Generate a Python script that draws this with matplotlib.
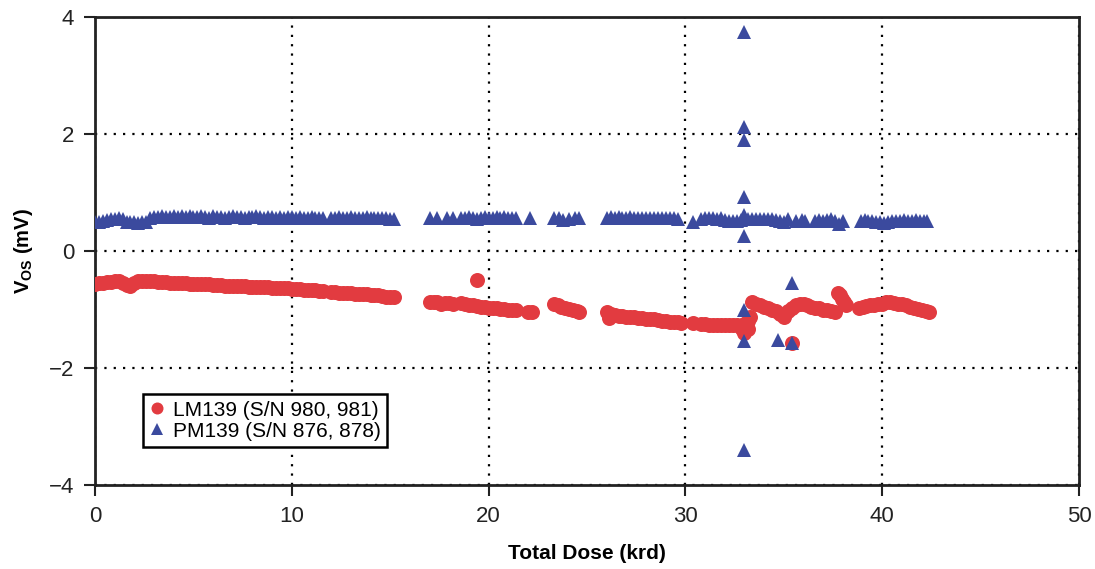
import matplotlib
matplotlib.use("Agg")
import matplotlib.pyplot as plt
from matplotlib import font_manager

# LM139 offset voltage (mV) vs. total dose (krd)
lm_dose = [0.0, 0.2, 0.4, 0.6, 0.8, 1.0, 1.2, 1.4, 1.6, 1.8,
           2.0, 2.2, 2.4, 2.6, 2.8, 3.0, 3.2, 3.4, 3.6, 3.8,
           4.0, 4.2, 4.4, 4.6, 4.8, 5.0, 5.2, 5.4, 5.6, 5.8,
           6.0, 6.2, 6.4, 6.6, 6.8, 7.0, 7.2, 7.4, 7.6, 7.8,
           8.0, 8.2, 8.4, 8.6, 8.8, 9.0, 9.2, 9.4, 9.6, 9.8,
           10.0, 10.2, 10.4, 10.6, 10.8, 11.0, 11.2, 11.4, 11.6,
           12.0, 12.2, 12.4, 12.6, 12.8, 13.0, 13.2, 13.4, 13.6, 13.8,
           14.0, 14.2, 14.4, 14.6, 14.8, 15.0, 15.2,
           17.0, 17.2, 17.4, 17.6, 17.8, 18.0, 18.2, 19.4,
           18.6, 18.8, 19.0, 19.2, 19.4, 19.6, 19.8, 20.0, 20.2, 20.4,
           20.6, 20.8, 21.0, 21.2, 21.4, 22.0, 22.2,
           23.3, 23.5, 23.7, 23.9, 24.1, 24.3, 24.5, 24.6,
           26.0, 26.2, 26.4, 26.6, 26.8, 27.0, 27.2, 27.4, 27.6, 27.8,
           28.0, 28.2, 28.4, 28.6, 28.8, 29.0, 29.2, 29.4, 29.6, 29.8, 26.1,
           30.4, 30.8, 31.0, 31.2, 31.4, 31.6, 31.8, 32.0, 32.2, 32.4,
           32.6, 32.8, 32.9, 33.0, 33.1, 33.2, 33.3, 33.2, 33.0,
           33.4, 33.6, 33.8, 34.0, 34.2, 34.4, 34.6, 34.8, 35.0, 35.2,
           35.4, 35.6, 35.8, 36.0, 36.2,
           36.4, 36.6, 36.8, 37.0, 37.2, 37.4, 37.6,
           37.75, 37.85, 37.95, 38.05, 38.15,
           38.8, 39.0, 39.2, 39.4, 39.6, 39.8, 40.0, 40.2, 40.4, 40.6,
           40.8, 41.0, 41.2, 41.4, 41.6, 41.8, 42.0, 42.2, 42.4,
           35.4]
lm_vos = [-0.56, -0.55, -0.54, -0.53, -0.53, -0.52, -0.51, -0.54, -0.58, -0.59,
          -0.55, -0.52, -0.51, -0.51, -0.52, -0.52, -0.53, -0.53, -0.53, -0.54,
          -0.54, -0.55, -0.55, -0.55, -0.56, -0.56, -0.56, -0.57, -0.57, -0.57,
          -0.58, -0.58, -0.58, -0.59, -0.59, -0.59, -0.60, -0.60, -0.60, -0.61,
          -0.61, -0.61, -0.62, -0.62, -0.62, -0.63, -0.63, -0.63, -0.64, -0.64,
          -0.65, -0.65, -0.65, -0.66, -0.66, -0.67, -0.67, -0.68, -0.68,
          -0.70, -0.70, -0.71, -0.71, -0.72, -0.72, -0.73, -0.73, -0.74, -0.74,
          -0.75, -0.76, -0.76, -0.77, -0.78, -0.79, -0.79,
          -0.87, -0.88, -0.88, -0.90, -0.89, -0.89, -0.91, -0.50,
          -0.89, -0.91, -0.92, -0.93, -0.94, -0.95, -0.96, -0.97, -0.97, -0.98,
          -0.99, -0.99, -1.00, -1.00, -1.01, -1.04, -1.05,
          -0.91, -0.93, -0.95, -0.97, -0.99, -1.01, -1.03, -1.04,
          -1.05, -1.08, -1.10, -1.11, -1.11, -1.12, -1.13, -1.13, -1.14, -1.15,
          -1.16, -1.17, -1.17, -1.18, -1.19, -1.20, -1.21, -1.21, -1.22, -1.23, -1.15,
          -1.23, -1.25, -1.25, -1.26, -1.26, -1.26, -1.27, -1.27, -1.27, -1.27,
          -1.26, -1.28, -1.33, -1.40, -1.30, -1.20, -1.12, -1.34, -1.25,
          -0.88, -0.91, -0.93, -0.95, -0.97, -1.00, -1.03, -1.08, -1.12, -1.03,
          -0.97, -0.92, -0.90, -0.91, -0.93,
          -0.95, -0.97, -0.98, -1.00, -1.01, -1.03, -1.04,
          -0.72, -0.76, -0.82, -0.87, -0.92,
          -0.97, -0.95, -0.94, -0.93, -0.92, -0.91, -0.90, -0.88, -0.87, -0.89,
          -0.90, -0.90, -0.92, -0.95, -0.97, -0.99, -1.01, -1.02, -1.04,
          -1.57]

# PM139 offset voltage (mV) vs. total dose (krd)
pm_dose = [0.0, 0.2, 0.4, 0.6, 0.8, 1.0, 1.2, 1.4, 1.6, 1.8,
           2.0, 2.2, 2.4, 2.6, 2.8, 3.0, 3.2, 3.4, 3.6, 3.8,
           4.0, 4.2, 4.4, 4.6, 4.8, 5.0, 5.2, 5.4, 5.6, 5.8,
           6.0, 6.2, 6.4, 6.6, 6.8, 7.0, 7.2, 7.4, 7.6, 7.8,
           8.0, 8.2, 8.4, 8.6, 8.8, 9.0, 9.2, 9.4, 9.6, 9.8,
           10.0, 10.2, 10.4, 10.6, 10.8, 11.0, 11.2, 11.4, 11.6,
           12.0, 12.2, 12.4, 12.6, 12.8, 13.0, 13.2, 13.4, 13.6, 13.8,
           14.0, 14.2, 14.4, 14.6, 14.8, 15.0, 15.2,
           17.0, 17.4, 17.9, 18.2,
           18.6, 18.8, 19.0, 19.2, 19.4, 19.6, 19.8, 20.0, 20.2, 20.4,
           20.6, 20.8, 21.0, 21.2, 21.4, 22.1,
           23.3, 23.6, 23.8, 24.1, 24.4, 24.6,
           26.0, 26.2, 26.4, 26.6, 26.8, 27.0, 27.2, 27.4, 27.6, 27.8,
           28.0, 28.2, 28.4, 28.6, 28.8, 29.0, 29.2, 29.4, 29.6,
           30.4, 30.8, 31.0, 31.2, 31.4, 31.6, 31.8, 32.0, 32.2, 32.4,
           32.6, 32.8, 33.0, 33.2, 33.4, 33.6, 33.8, 34.0, 34.2, 34.4,
           34.6, 34.8, 35.0, 35.2, 35.6, 35.9, 36.1,
           36.6, 36.8, 37.0, 37.2, 37.4, 37.6, 37.8, 38.0,
           38.9, 39.1, 39.3, 39.5, 39.7, 39.9, 40.1, 40.3, 40.5, 40.7,
           40.9, 41.1, 41.3, 41.5, 41.7, 41.9, 42.1, 42.3,
           33.0, 33.0, 33.0, 33.0, 33.0, 33.0, 33.0, 33.0, 33.0,
           35.4, 34.7, 35.4]
pm_vos = [0.49, 0.50, 0.51, 0.53, 0.55, 0.54, 0.56, 0.55, 0.50, 0.49,
          0.49, 0.48, 0.49, 0.50, 0.57, 0.58, 0.58, 0.59, 0.58, 0.58,
          0.59, 0.58, 0.59, 0.58, 0.59, 0.58, 0.58, 0.59, 0.58, 0.57,
          0.59, 0.58, 0.58, 0.57, 0.58, 0.59, 0.58, 0.58, 0.57, 0.58,
          0.58, 0.59, 0.58, 0.57, 0.58, 0.58, 0.57, 0.58, 0.57, 0.58,
          0.58, 0.57, 0.58, 0.57, 0.57, 0.58, 0.57, 0.56, 0.57,
          0.57, 0.57, 0.58, 0.57, 0.57, 0.58, 0.57, 0.57, 0.57, 0.58,
          0.57, 0.57, 0.56, 0.57, 0.56, 0.54, 0.54,
          0.57, 0.56, 0.57, 0.56,
          0.56, 0.57, 0.58, 0.56, 0.55, 0.57, 0.58, 0.57, 0.56, 0.58,
          0.57, 0.58, 0.56, 0.57, 0.56, 0.56,
          0.56, 0.57, 0.53, 0.55, 0.57, 0.56,
          0.57, 0.58, 0.57, 0.58, 0.57, 0.57, 0.58, 0.57, 0.56, 0.57,
          0.57, 0.56, 0.57, 0.57, 0.56, 0.56, 0.57, 0.56, 0.55,
          0.50, 0.55, 0.56, 0.57, 0.56, 0.55, 0.56, 0.53, 0.52, 0.52,
          0.52, 0.53, 0.54, 0.55, 0.54, 0.55, 0.55, 0.54, 0.55, 0.54,
          0.53, 0.52, 0.50, 0.54, 0.52, 0.53, 0.52,
          0.52, 0.53, 0.52, 0.53, 0.54, 0.52, 0.47, 0.51,
          0.52, 0.53, 0.52, 0.51, 0.50, 0.49, 0.48, 0.50, 0.52, 0.52,
          0.52, 0.53, 0.52, 0.52, 0.53, 0.52, 0.52, 0.52,
          3.75, 2.12, 1.90, 0.93, 0.62, 0.25, -1.00, -1.53, -3.40,
          -0.55, -1.52, -1.57]

lm_label = "LM139 (S/N 980, 981)"
pm_label = "PM139 (S/N 876, 878)"
x_ticks = [0, 10, 20, 30, 40, 50]
y_ticks = [-4, -2, 0, 2, 4]

RED = "#e23b40"
BLUE = "#3b4a9e"

installed = {f.name for f in font_manager.fontManager.ttflist}
narrow = "Liberation Sans Narrow" if "Liberation Sans Narrow" in installed else "Liberation Sans"
plt.rcParams["font.family"] = [narrow, "DejaVu Sans"]
plt.rcParams["mathtext.default"] = "regular"

fig = plt.figure(figsize=(10.95, 5.69), dpi=100)
ax = fig.add_axes([0.0868, 0.1476, 0.8986, 0.8225])

ax.plot(lm_dose, lm_vos, "o", color=RED, markersize=10.8, markeredgewidth=0, label=lm_label, zorder=3)
ax.plot(pm_dose, pm_vos, "^", color=BLUE, markersize=10, markeredgewidth=0, label=pm_label, zorder=4)

ax.set_xlim(0, 50)
ax.set_ylim(-4, 4)
ax.set_xticks(x_ticks)
ax.set_yticks(y_ticks)
ax.set_yticklabels(["\u2212" + str(-t) if t < 0 else str(t) for t in y_ticks])

ax.grid(True, color="black", linestyle=(0, (1, 3.2)), linewidth=1.6)
ax.tick_params(direction="out", length=8, width=1.5, labelsize=16, colors="#222222", pad=7)
for spine in ax.spines.values():
    spine.set_linewidth(2)
    spine.set_color("#222222")

ax.set_xlabel("Total Dose (krd)", fontsize=15, fontweight="bold", labelpad=12)
ax.set_ylabel("V$_{OS}$ (mV)", fontsize=14.5, fontweight="bold", labelpad=10)

leg = ax.legend(loc="lower left", bbox_to_anchor=(0.0488, 0.0812), borderaxespad=0,
                fancybox=False, edgecolor="black", framealpha=1, handlelength=0.7,
                handletextpad=0.45, borderpad=0.3, labelspacing=0.1, markerscale=0.8,
                prop={"family": ["Liberation Sans", "DejaVu Sans"], "size": 15})
leg.get_frame().set_linewidth(1.8)
leg.set_zorder(5)

fig.savefig("out.png", dpi=100)
